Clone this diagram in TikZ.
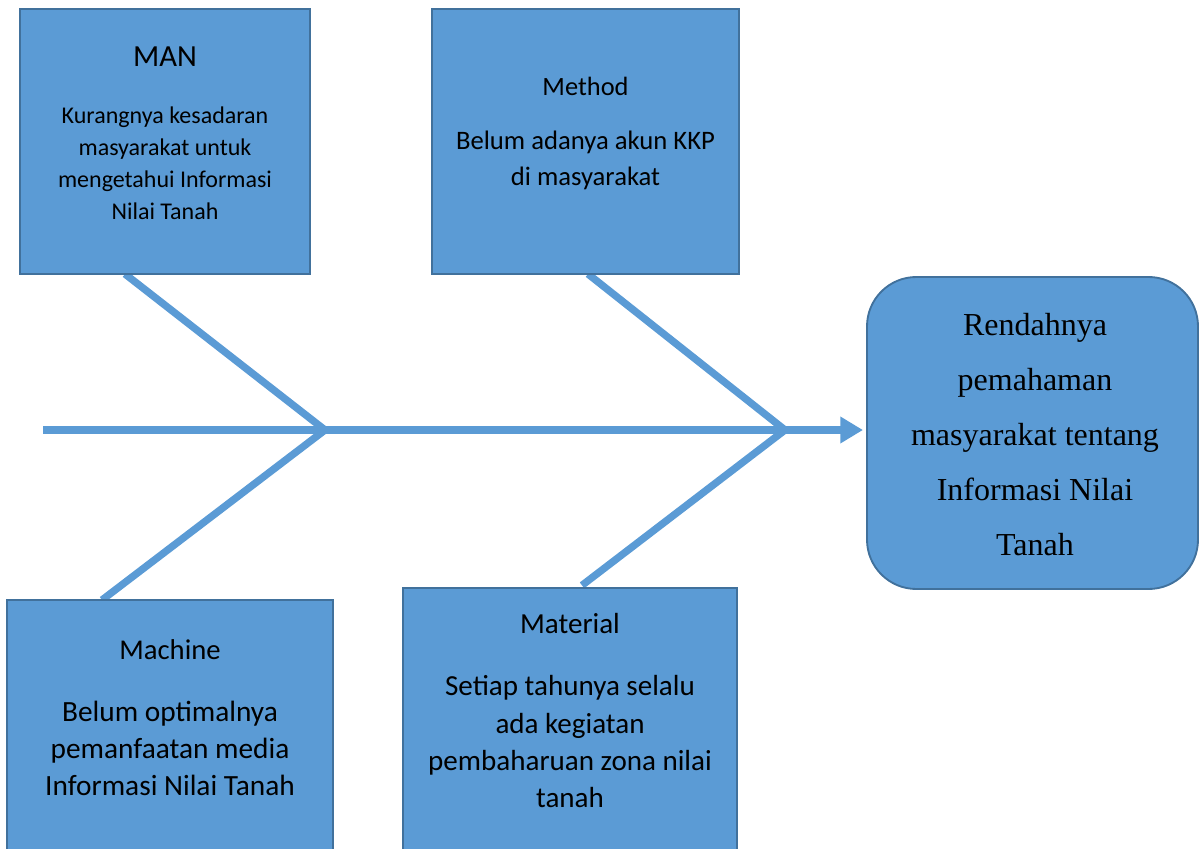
\documentclass[tikz,border=0pt]{standalone}
\usepackage{fontspec}
\setmainfont{Carlito}
\newfontfamily\serifTNR{Liberation Serif}
\usetikzlibrary{arrows.meta,backgrounds}
\definecolor{boxfill}{HTML}{5B9BD5}
\definecolor{boxline}{HTML}{41719C}
\begin{document}
\begin{tikzpicture}[x=0.75pt,y=-0.75pt,
  box/.style={draw=boxline,line width=1.4pt,fill=boxfill,inner sep=0pt,outer sep=0pt},
  bone/.style={draw=boxfill,line width=5.5pt},
  txt/.style={align=center,text=black,inner sep=0pt}]
\useasboundingbox (0,0) rectangle (1200,849);
\clip (0,0) rectangle (1200,849);
% boxes
\node[box,minimum width=217.5pt,minimum height=198.75pt] (man) at (165,141.5) {};
\node[box,minimum width=230.25pt,minimum height=198.75pt] (method) at (585.5,141.5) {};
\node[box,minimum width=244.5pt,minimum height=202.5pt] (machine) at (170,735) {};
\node[box,minimum width=250.5pt,minimum height=211.5pt] (material) at (570,729) {};
\node[box,rounded corners=37pt,minimum width=248.25pt,minimum height=234pt] (effect) at (1032.5,433) {};
% skeleton
\coordinate (tail) at (43,430);
\coordinate (j1) at (325,430);
\coordinate (j2) at (785,430);
\begin{scope}[on background layer]
\draw[bone] ([xshift=78.75pt]man.south west) -- (j1);
\draw[bone] (j1) -- ([xshift=71.25pt]machine.north west);
\draw[bone] ([xshift=117pt]method.south west) -- (j2);
\draw[bone] (j2) -- ([xshift=134.25pt,yshift=2pt]material.north west);
\end{scope}
\draw[bone,-{Triangle[length=17pt,width=19pt]}] (tail) -- ([xshift=-3pt]effect.west |- tail);
% texts
\node[txt,font=\fontsize{23}{27}\selectfont] (mant) at (165,57) {MAN};
\node[txt,font=\fontsize{18}{24}\selectfont] (manb) at (165,163) {Kurangnya kesadaran\\masyarakat untuk\\mengetahui Informasi\\Nilai Tanah};
\node[txt,font=\fontsize{19.8}{27}\selectfont] (metht) at (585.5,86) {Method};
\node[txt,font=\fontsize{20}{27}\selectfont] (methb) at (585.5,160) {Belum adanya akun KKP\\di masyarakat};
\node[txt,font=\fontsize{21.5}{27.75}\selectfont] (macht) at (170,650) {Machine};
\node[txt,font=\fontsize{22}{27.75}\selectfont] (machb) at (170,748) {Belum optimalnya\\pemanfaatan media\\Informasi Nilai Tanah};
\node[txt,font=\fontsize{21.8}{28}\selectfont] (matt) at (570,624) {Material};
\node[txt,font=\fontsize{21.8}{28}\selectfont] (matb) at (570,742) {Setiap tahunya selalu\\ada kegiatan\\pembaharuan zona nilai\\tanah};
\node[txt,font=\serifTNR\fontsize{24}{41.25}\selectfont] (efft) at (1035,435) {Rendahnya\\pemahaman\\masyarakat tentang\\Informasi Nilai\\Tanah};
\end{tikzpicture}
\end{document}
